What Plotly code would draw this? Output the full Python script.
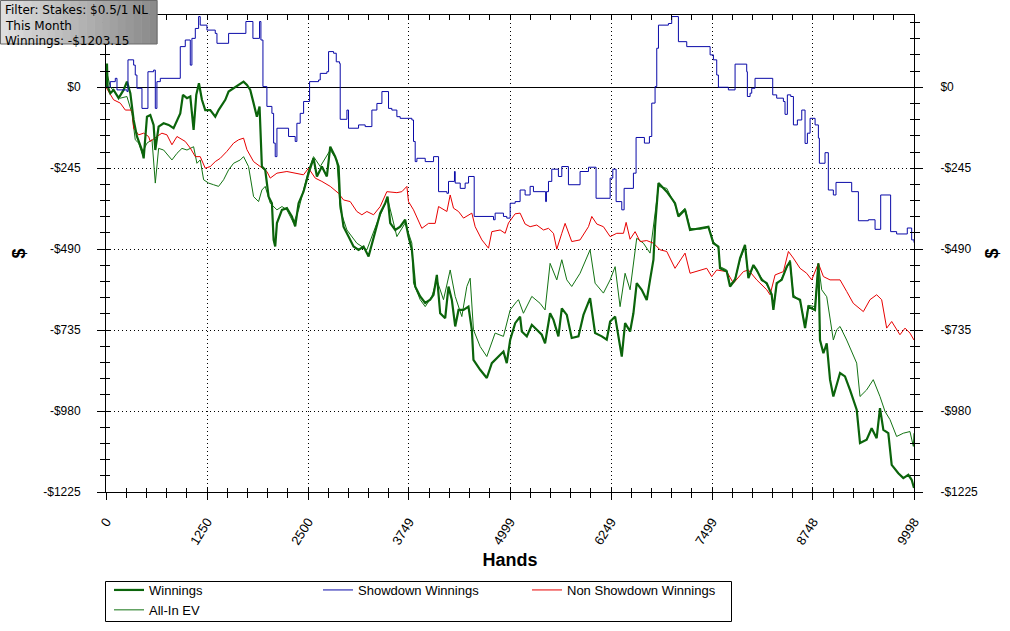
import plotly.graph_objects as go

# ---------------- data ----------------
x_ticks = [0, 1250, 2500, 3749, 4999, 6249, 7499, 8748, 9998]
y_ticks = [0, -245, -490, -735, -980, -1225]
y_ticktext = ["$0", "-$245", "-$490", "-$735", "-$980", "-$1225"]

win_hands = [0, 12, 20, 53, 94, 156, 218, 259, 301, 342, 383, 445, 466, 507, 548, 589, 610, 651, 713, 775, 836, 919, 952, 1002, 1043, 1084, 1117, 1150, 1187, 1228, 1290, 1352, 1393, 1476, 1517, 1579, 1641, 1702, 1744, 1785, 1826, 1867, 1900, 1929, 1970, 2012, 2053, 2074, 2094, 2115, 2177, 2238, 2300, 2341, 2383, 2444, 2507, 2568, 2610, 2671, 2733, 2775, 2836, 2878, 2898, 2939, 3001, 3063, 3125, 3187, 3249, 3311, 3393, 3455, 3484, 3517, 3579, 3640, 3702, 3743, 3785, 3826, 3888, 3950, 4011, 4053, 4094, 4135, 4197, 4238, 4279, 4321, 4362, 4424, 4485, 4527, 4547, 4630, 4712, 4774, 4857, 4918, 4959, 5001, 5063, 5124, 5145, 5207, 5269, 5330, 5392, 5433, 5495, 5537, 5598, 5640, 5702, 5763, 5846, 5908, 5990, 6052, 6135, 6196, 6238, 6300, 6382, 6423, 6485, 6526, 6567, 6629, 6691, 6732, 6774, 6794, 6815, 6836, 6939, 7041, 7083, 7165, 7227, 7351, 7454, 7516, 7578, 7598, 7681, 7722, 7784, 7846, 7907, 7949, 8011, 8052, 8114, 8176, 8237, 8258, 8299, 8361, 8423, 8464, 8505, 8588, 8650, 8691, 8773, 8815, 8835, 8877, 8918, 8959, 9000, 9083, 9144, 9206, 9289, 9330, 9412, 9474, 9536, 9577, 9619, 9680, 9722, 9804, 9866, 9928, 9969, 9998]
win_vals = [0, 72, 2, -18, -8, -33, -8, 17, -18, -99, -149, -190, -215, -89, -84, -114, -190, -119, -109, -114, -124, -79, -23, -33, -28, -129, -23, 12, -38, -69, -69, -89, -69, -38, -13, -3, 7, 17, 7, -8, -48, -89, -58, -240, -250, -331, -351, -462, -482, -411, -371, -366, -391, -421, -351, -316, -260, -215, -270, -240, -270, -180, -210, -240, -351, -422, -452, -482, -492, -482, -512, -452, -381, -351, -331, -411, -432, -422, -401, -452, -492, -603, -633, -653, -643, -628, -568, -684, -699, -603, -643, -724, -674, -674, -664, -734, -825, -855, -880, -835, -815, -800, -835, -765, -714, -694, -739, -754, -719, -734, -749, -775, -684, -704, -754, -669, -689, -759, -754, -689, -638, -744, -754, -764, -709, -694, -815, -714, -739, -684, -593, -613, -644, -583, -522, -422, -341, -290, -316, -351, -391, -371, -432, -427, -422, -472, -482, -548, -558, -603, -583, -517, -477, -578, -538, -553, -583, -593, -628, -674, -593, -583, -543, -528, -634, -643, -729, -664, -674, -533, -765, -805, -775, -885, -936, -865, -875, -916, -976, -1077, -1067, -1032, -1062, -971, -1037, -1047, -1143, -1168, -1183, -1173, -1188, -1213]

sd_hands = [0, 53, 115, 136, 259, 272, 342, 362, 383, 445, 519, 589, 610, 630, 672, 919, 981, 1043, 1063, 1105, 1146, 1166, 1249, 1352, 1373, 1517, 1731, 1818, 1900, 1917, 1942, 1991, 2053, 2074, 2094, 2115, 2259, 2341, 2362, 2403, 2445, 2519, 2630, 2651, 2733, 2754, 2816, 2849, 2890, 2898, 2981, 3001, 3125, 3207, 3290, 3352, 3414, 3496, 3537, 3599, 3640, 3785, 3805, 3826, 3847, 3950, 4053, 4115, 4218, 4238, 4312, 4321, 4383, 4444, 4486, 4556, 4795, 4815, 4918, 4959, 5001, 5063, 5124, 5186, 5248, 5289, 5440, 5450, 5475, 5516, 5598, 5640, 5722, 5866, 5970, 6064, 6238, 6271, 6312, 6382, 6411, 6526, 6559, 6662, 6724, 6753, 6794, 6815, 6836, 6959, 7000, 7083, 7186, 7475, 7516, 7557, 7578, 7701, 7784, 7928, 7936, 7970, 7990, 8031, 8250, 8299, 8382, 8402, 8431, 8473, 8506, 8555, 8609, 8650, 8679, 8712, 8774, 8815, 8827, 8897, 8938, 9000, 9033, 9227, 9310, 9433, 9516, 9586, 9709, 9783, 9915, 9969, 9998]
sd_vals = [0, 17, 27, -8, -13, 83, 67, 37, -3, -64, 47, 52, -64, 17, 27, 123, 143, 67, 148, 178, 214, 188, 173, 163, 133, 163, 199, 148, 199, 143, 2, -58, -79, -169, -210, -124, -149, -164, -109, -79, -43, 17, 22, 42, 47, 108, 103, 77, 72, -97, -69, -124, -114, -119, -69, -49, -13, -64, -69, -89, -94, -99, -164, -225, -215, -225, -210, -316, -321, -285, -255, -290, -306, -290, -270, -391, -401, -381, -391, -396, -351, -346, -311, -326, -300, -316, -346, -316, -285, -248, -270, -240, -295, -255, -242, -336, -275, -248, -346, -371, -306, -260, -152, -169, -149, -48, 2, 118, 188, 193, 214, 138, 123, 98, 83, 37, 0, -8, 70, 47, -28, -18, -3, 27, -23, -33, -43, -82, -23, -28, -114, -99, -69, -170, -139, -94, -114, -154, -230, -198, -311, -326, -288, -316, -404, -401, -430, -326, -437, -444, -426, -462, -470]

nsd_hands = [0, 53, 94, 177, 239, 321, 342, 404, 466, 527, 548, 630, 692, 754, 816, 878, 981, 1043, 1105, 1166, 1228, 1290, 1352, 1414, 1496, 1579, 1641, 1702, 1744, 1826, 1908, 1991, 2032, 2115, 2238, 2362, 2444, 2506, 2589, 2671, 2775, 2878, 2939, 3022, 3104, 3166, 3228, 3311, 3393, 3475, 3599, 3661, 3723, 3743, 3805, 3908, 3991, 4073, 4115, 4218, 4259, 4300, 4362, 4424, 4527, 4568, 4651, 4733, 4774, 4877, 4939, 4980, 5063, 5124, 5186, 5248, 5330, 5413, 5475, 5537, 5578, 5640, 5681, 5763, 5866, 5970, 6011, 6073, 6155, 6238, 6320, 6403, 6436, 6485, 6547, 6609, 6691, 6774, 6856, 6939, 7041, 7124, 7165, 7227, 7351, 7433, 7495, 7557, 7681, 7763, 7887, 7949, 8052, 8176, 8217, 8279, 8382, 8444, 8505, 8588, 8670, 8732, 8815, 8877, 8959, 9083, 9165, 9247, 9371, 9453, 9536, 9598, 9660, 9722, 9824, 9887, 9948, 9998]
nsd_vals = [0, -23, -38, -48, -69, -69, -124, -144, -139, -149, -164, -149, -139, -144, -174, -149, -164, -184, -210, -210, -245, -240, -225, -215, -194, -169, -159, -154, -189, -225, -240, -255, -275, -260, -255, -260, -265, -245, -275, -285, -300, -321, -341, -346, -376, -386, -376, -386, -361, -316, -319, -316, -300, -346, -371, -427, -412, -412, -361, -376, -326, -366, -376, -396, -381, -422, -462, -487, -437, -432, -442, -411, -383, -381, -414, -422, -417, -432, -427, -442, -490, -442, -412, -467, -462, -422, -391, -414, -422, -452, -442, -442, -409, -460, -437, -467, -464, -472, -492, -497, -548, -517, -502, -563, -553, -548, -573, -553, -558, -593, -558, -553, -583, -613, -628, -568, -558, -497, -517, -548, -563, -583, -533, -573, -583, -583, -618, -654, -679, -643, -628, -643, -729, -709, -749, -729, -744, -765]

ev_hands = [0, 12, 53, 115, 177, 259, 321, 362, 404, 445, 507, 569, 610, 651, 713, 775, 816, 878, 940, 1002, 1084, 1125, 1166, 1208, 1270, 1331, 1393, 1455, 1517, 1579, 1661, 1702, 1764, 1826, 1888, 1929, 1970, 2032, 2115, 2177, 2238, 2321, 2383, 2444, 2507, 2568, 2651, 2775, 2857, 2898, 2981, 3104, 3228, 3352, 3484, 3599, 3702, 3785, 3805, 3888, 3950, 4032, 4094, 4176, 4259, 4321, 4403, 4465, 4506, 4547, 4630, 4712, 4815, 4918, 5001, 5083, 5104, 5165, 5269, 5371, 5433, 5495, 5578, 5640, 5702, 5763, 5866, 5990, 6052, 6155, 6238, 6300, 6361, 6423, 6485, 6567, 6650, 6732, 6774, 6815, 6836, 6939, 7041, 7083, 7165, 7227, 7351, 7454, 7516, 7578, 7598, 7681, 7722, 7784, 7846, 7907, 7949, 8011, 8052, 8114, 8176, 8237, 8258, 8299, 8361, 8423, 8464, 8505, 8588, 8650, 8691, 8773, 8815, 8856, 8918, 9000, 9041, 9083, 9165, 9289, 9330, 9412, 9494, 9577, 9639, 9701, 9783, 9866, 9948, 9990, 9998]
ev_vals = [0, 42, 2, -18, -33, -28, -79, -159, -169, -200, -169, -159, -290, -185, -190, -210, -220, -200, -185, -190, -180, -230, -220, -280, -290, -295, -300, -280, -250, -230, -220, -210, -240, -331, -346, -311, -300, -351, -371, -361, -371, -411, -371, -311, -250, -210, -240, -190, -220, -371, -432, -472, -492, -411, -336, -452, -411, -472, -593, -643, -664, -633, -583, -643, -553, -633, -694, -603, -578, -734, -785, -815, -744, -754, -674, -648, -643, -684, -633, -654, -674, -533, -583, -522, -583, -603, -563, -492, -593, -623, -583, -543, -664, -563, -613, -457, -472, -502, -422, -341, -300, -306, -356, -386, -366, -427, -430, -425, -467, -487, -543, -553, -598, -578, -522, -482, -573, -543, -558, -578, -598, -623, -668, -598, -578, -548, -523, -628, -648, -720, -660, -664, -533, -613, -634, -765, -734, -724, -765, -835, -936, -916, -885, -936, -981, -1006, -1057, -1047, -1042, -1087, -1047]

info_lines = ["Filter: Stakes: $0.5/1 NL", "This Month", "Winnings: -$1203.15"]

# ---------------- layout geometry ----------------
W, H = 1010, 631
L, R, T, B = 106, 96, 15, 139
PW, PH = W - L - R, H - T - B
Y_RANGE = [-1225, 218.7]
X_RANGE = [0, 9998]


def px(x):
    return (x - L) / PW


def py(y):
    return (H - B - y) / PH


x_minor = []
for a, b in zip(x_ticks[:-1], x_ticks[1:]):
    x_minor += [a + (b - a) * k / 5 for k in range(1, 5)]
y_minor = [-1225 + 49 * k for k in range(0, 30) if -1225 + 49 * k <= 218]

GREEN = "#0b640b"
GREEN_T = "#137313"
BLUE = "#0a0aa8"
RED = "#e80000"

fig = go.Figure()
fig.add_trace(go.Scatter(x=ev_hands, y=ev_vals, mode="lines", name="All-In EV",
                         line=dict(color=GREEN_T, width=1), legendrank=4))
fig.add_trace(go.Scatter(x=nsd_hands, y=nsd_vals, mode="lines", name="Non Showdown Winnings",
                         line=dict(color=RED, width=1), legendrank=3))
fig.add_trace(go.Scatter(x=win_hands, y=win_vals, mode="lines", name="Winnings",
                         line=dict(color=GREEN, width=2.2), legendrank=1))
fig.add_trace(go.Scatter(x=sd_hands, y=sd_vals, mode="lines", name="Showdown Winnings",
                         line=dict(color=BLUE, width=1, shape="hv"), legendrank=2))

# dummy traces to attach the extra tick axes
fig.add_trace(go.Scatter(x=[None], y=[None], xaxis="x", yaxis="y2", showlegend=False, hoverinfo="skip"))
fig.add_trace(go.Scatter(x=[None], y=[None], xaxis="x2", yaxis="y3", showlegend=False, hoverinfo="skip"))
fig.add_trace(go.Scatter(x=[None], y=[None], xaxis="x3", yaxis="y4", showlegend=False, hoverinfo="skip"))

FAM = "Liberation Sans, Arial, sans-serif"
tickfont = dict(family=FAM, size=12, color="black")
blank = dict(showticklabels=False, showgrid=False, zeroline=False, showline=False)

fig.update_layout(
    width=W, height=H,
    margin=dict(l=L, r=R, t=T, b=B, autoexpand=False),
    paper_bgcolor="white", plot_bgcolor="white",
    font=dict(family=FAM, color="black"),
    xaxis=dict(
        range=X_RANGE, tickmode="array", tickvals=x_ticks, ticktext=[str(v) for v in x_ticks],
        tickangle=-58, tickfont=dict(family=FAM, size=13, color="black"),
        ticks="outside", ticklen=7, tickcolor="black", tickwidth=1,
        showline=True, linecolor="black", linewidth=1, mirror=True,
        showgrid=True, gridcolor="black", gridwidth=1, griddash="1px,3px",
        zeroline=False, ticklabelstandoff=9,
        minor=dict(tickvals=x_minor, ticks="outside", ticklen=5, tickcolor="black", showgrid=False),
        title=dict(text="<b>Hands</b>", font=dict(size=18, family=FAM), standoff=6),
    ),
    xaxis2=dict(range=X_RANGE, overlaying="x", side="bottom", anchor="y3",
                tickmode="array", tickvals=x_ticks, ticks="inside", ticklen=4, tickcolor="black",
                minor=dict(tickvals=x_minor, ticks="inside", ticklen=4, tickcolor="black"), **blank),
    xaxis3=dict(range=X_RANGE, overlaying="x", side="top", anchor="y4",
                tickmode="array", tickvals=x_ticks, ticks="inside", ticklen=5, tickcolor="black",
                minor=dict(tickvals=x_minor, ticks="inside", ticklen=5, tickcolor="black"), **blank),
    yaxis=dict(
        range=Y_RANGE, tickmode="array", tickvals=y_ticks, ticktext=y_ticktext, tickfont=tickfont,
        ticks="outside", ticklen=8, tickcolor="black",
        showline=True, linecolor="black", linewidth=1, mirror=True,
        showgrid=True, gridcolor="black", gridwidth=1, griddash="1px,3px",
        zeroline=True, zerolinecolor="black", zerolinewidth=1,
        minor=dict(tickvals=y_minor, ticks="outside", ticklen=5, tickcolor="black", showgrid=False),
        ticklabelstandoff=14,
        title=dict(text="<b>$</b>", font=dict(size=18), standoff=12),
    ),
    yaxis2=dict(
        range=Y_RANGE, overlaying="y", side="right", anchor="x",
        tickmode="array", tickvals=y_ticks, ticktext=y_ticktext, tickfont=tickfont,
        ticks="outside", ticklen=8, tickcolor="black",
        showgrid=False, zeroline=False, showline=False,
        minor=dict(tickvals=y_minor, ticks="outside", ticklen=5, tickcolor="black"),
        ticklabelstandoff=15,
        title=dict(text="<b>$</b>", font=dict(size=18), standoff=8),
    ),
    yaxis3=dict(range=Y_RANGE, overlaying="y", side="left", anchor="x2",
                tickmode="array", tickvals=y_ticks, ticks="inside", ticklen=4, tickcolor="black",
                minor=dict(tickvals=y_minor, ticks="inside", ticklen=4, tickcolor="black"), **blank),
    yaxis4=dict(range=Y_RANGE, overlaying="y", side="right", anchor="x3",
                tickmode="array", tickvals=y_ticks, ticks="inside", ticklen=4, tickcolor="black",
                minor=dict(tickvals=y_minor, ticks="inside", ticklen=4, tickcolor="black"), **blank),
    legend=dict(
        orientation="h", x=px(109), y=py(575), xanchor="left", yanchor="top",
        bgcolor="rgba(0,0,0,0)", borderwidth=0,
        entrywidth=164, entrywidthmode="pixels", itemwidth=30,
        font=dict(family=FAM, size=13, color="black"),
        tracegroupgap=0,
    ),
    showlegend=True,
)

# legend frame
fig.add_shape(type="rect", xref="paper", yref="paper",
              x0=px(105.5), x1=px(731.5), y0=py(621.5), y1=py(581.5),
              fillcolor="white", line=dict(color="black", width=1), layer="below")

# info box with a grey gradient
n_strips = 20
bx0, bx1, by0, by1 = 0, 157, 0, 44
for i in range(n_strips):
    c0 = 222 - int((222 - 138) * i / (n_strips - 1))
    xa = bx0 + (bx1 - bx0) * i / n_strips
    xb = bx0 + (bx1 - bx0) * (i + 1) / n_strips
    fig.add_shape(type="rect", xref="paper", yref="paper",
                  x0=px(xa), x1=px(xb + 0.5), y0=py(by1), y1=py(by0),
                  fillcolor=f"rgb({c0},{c0},{c0})", line=dict(width=0), layer="above")
fig.add_shape(type="rect", xref="paper", yref="paper",
              x0=px(bx0 + 0.5), x1=px(bx1), y0=py(by1), y1=py(by0 + 0.5),
              fillcolor="rgba(0,0,0,0)", line=dict(color="#6a6a6a", width=1), layer="above")
for i, line in enumerate(info_lines):
    fig.add_annotation(xref="paper", yref="paper", x=px(3), y=py(1 + 15.5 * i),
                       xanchor="left", yanchor="top", showarrow=False, text=line,
                       font=dict(family="DejaVu Sans, Verdana, sans-serif", size=12, color="black"))

fig.write_html("out.html")
